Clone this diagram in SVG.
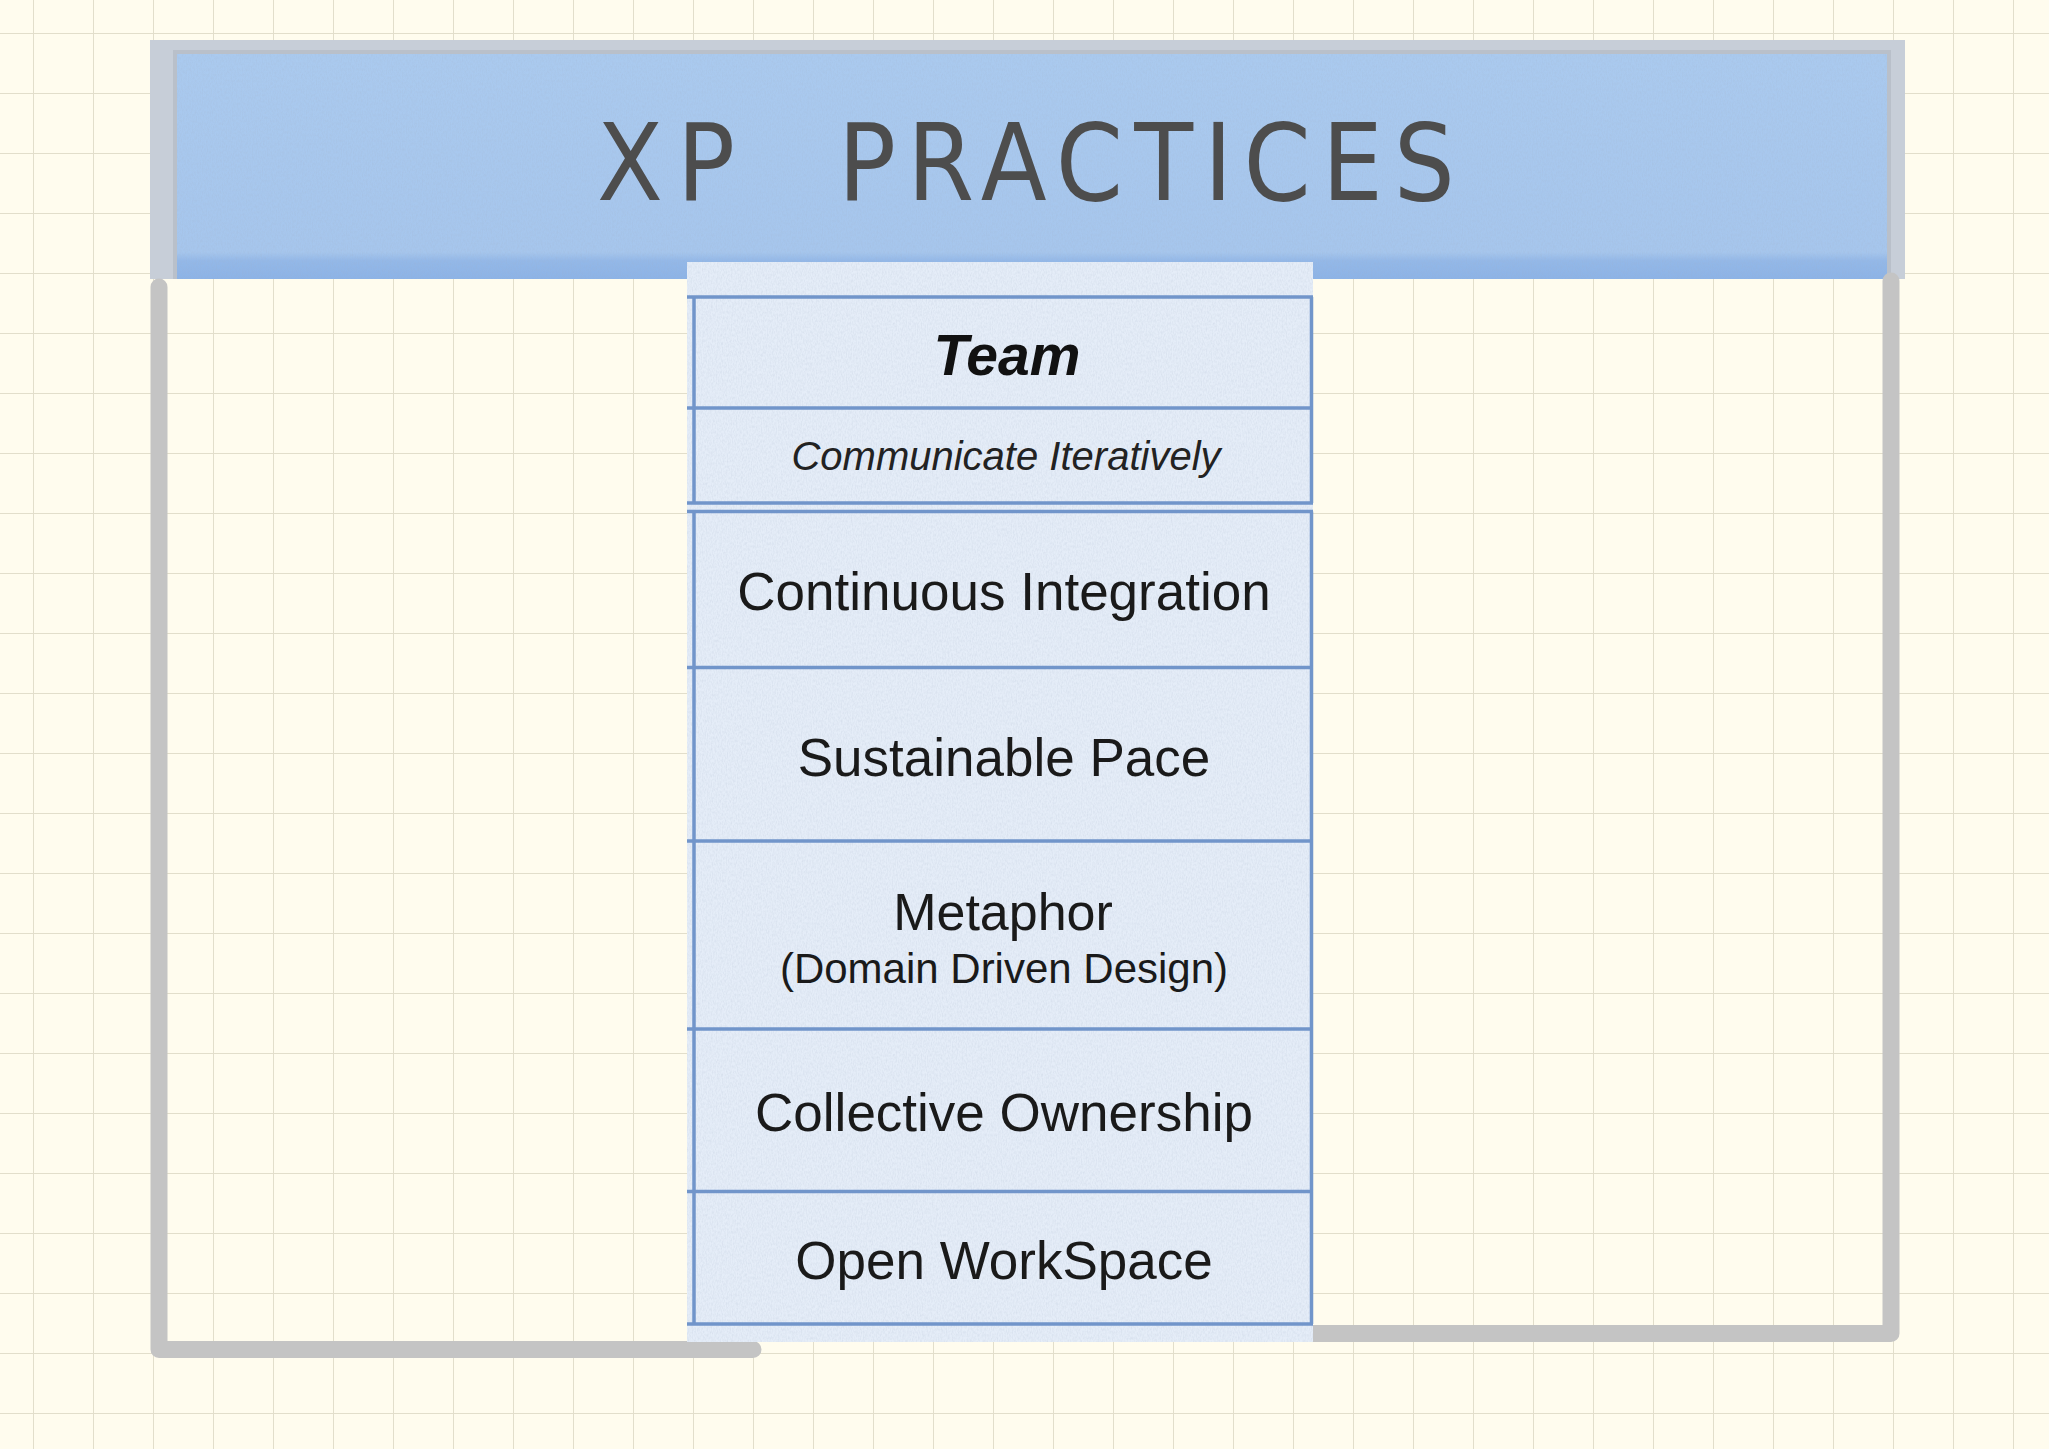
<svg xmlns="http://www.w3.org/2000/svg" width="2049" height="1449" viewBox="0 0 2049 1449">
  <defs>
    <pattern id="grid" x="33" y="33" width="60" height="60" patternUnits="userSpaceOnUse">
      <path d="M0 0 H60 M0 0 V60" fill="none" stroke="#e2decb" stroke-width="2"/>
    </pattern>
    <linearGradient id="bannerGrad" x1="0" y1="0" x2="0" y2="1">
      <stop offset="0" stop-color="#aacaef"/>
      <stop offset="0.88" stop-color="#a6c6ed"/>
      <stop offset="0.92" stop-color="#93b8e8"/>
      <stop offset="1" stop-color="#8cb3e7"/>
    </linearGradient>
    <filter id="paper" x="0" y="0" width="100%" height="100%">
      <feTurbulence type="fractalNoise" baseFrequency="0.8 0.35" numOctaves="2" seed="4"/>
      <feColorMatrix type="matrix" values="0 0 0 0 0.35  0 0 0 0 0.42  0 0 0 0 0.55  0 0 0 0.35 -0.12"/>
      <feComposite in2="SourceGraphic" operator="in"/>
    </filter>
    <style>
      .hline { stroke: #7195ca; stroke-width: 3.5; fill: none; }
      .vline { stroke: #7195ca; stroke-width: 3.5; fill: none; }
      .label { font-family: "Liberation Sans", Arial, sans-serif; font-size: 53px; fill: #1a1a1a; text-anchor: middle; }
      .title { font-family: "Liberation Sans Narrow", "DejaVu Sans Condensed", sans-serif; font-size: 107px; fill: #4d4d4d; }
      .bracket { fill: none; stroke: #c4c4c4; stroke-width: 17; stroke-linecap: round; stroke-linejoin: round; }
    </style>
  </defs>

  <rect x="0" y="0" width="2049" height="1449" fill="#fffcee"/>
  <rect x="0" y="0" width="2049" height="1449" fill="url(#grid)"/>

  <g id="banner">
    <rect x="150" y="40" width="1755" height="239" fill="#c7ced8"/>
    <rect x="173" y="50" width="1718" height="229" fill="#b9c0ca"/>
    <rect x="177" y="54" width="1710" height="225" fill="url(#bannerGrad)"/>
    <rect x="177" y="54" width="1710" height="225" fill="#ffffff" filter="url(#paper)"/>
    <text class="title" x="597" y="200" textLength="138" lengthAdjust="spacing">XP</text>
    <text class="title" x="838" y="200" textLength="617" lengthAdjust="spacing">PRACTICES</text>
  </g>

  <g id="connectors">
    <path class="bracket" d="M159 287 V1349.5 H753"/>
    <path class="bracket" d="M1891 281 V1333.5 H1280"/>
  </g>

  <g id="column">
    <rect x="687" y="262" width="626" height="1080" fill="#e5edf8"/>
    <rect x="687" y="262" width="626" height="1080" fill="#ffffff" filter="url(#paper)"/>
  </g>

  <g id="team">
    <line class="vline" x1="694" y1="297" x2="694" y2="503"/>
    <line class="vline" x1="1311.5" y1="297" x2="1311.5" y2="503"/>
    <line class="hline" x1="687" y1="297" x2="1313" y2="297"/>
    <line class="hline" x1="687" y1="408" x2="1313" y2="408"/>
    <line class="hline" x1="687" y1="503" x2="1313" y2="503"/>
    <text x="1007" y="375" text-anchor="middle" font-family="Liberation Sans, Arial, sans-serif" font-size="57" font-weight="bold" font-style="italic" fill="#111111">Team</text>
    <text x="1006" y="470" text-anchor="middle" font-family="Liberation Sans, Arial, sans-serif" font-size="40" font-style="italic" fill="#222222">Communicate Iteratively</text>
  </g>

  <g id="continuous-integration">
    <line class="vline" x1="694" y1="511.5" x2="694" y2="667.5"/>
    <line class="vline" x1="1311.5" y1="511.5" x2="1311.5" y2="667.5"/>
    <line class="hline" x1="687" y1="511.5" x2="1313" y2="511.5"/>
    <line class="hline" x1="687" y1="667.5" x2="1313" y2="667.5"/>
    <text class="label" x="1004" y="610">Continuous Integration</text>
  </g>

  <g id="sustainable-pace">
    <line class="vline" x1="694" y1="667.5" x2="694" y2="841"/>
    <line class="vline" x1="1311.5" y1="667.5" x2="1311.5" y2="841"/>
    <line class="hline" x1="687" y1="841" x2="1313" y2="841"/>
    <text class="label" x="1004" y="776">Sustainable Pace</text>
  </g>

  <g id="metaphor">
    <line class="vline" x1="694" y1="841" x2="694" y2="1029"/>
    <line class="vline" x1="1311.5" y1="841" x2="1311.5" y2="1029"/>
    <line class="hline" x1="687" y1="1029" x2="1313" y2="1029"/>
    <text class="label" x="1003" y="930" style="font-size:52px">Metaphor</text>
    <text class="label" x="1004" y="983" style="font-size:42px">(Domain Driven Design)</text>
  </g>

  <g id="collective-ownership">
    <line class="vline" x1="694" y1="1029" x2="694" y2="1191.5"/>
    <line class="vline" x1="1311.5" y1="1029" x2="1311.5" y2="1191.5"/>
    <line class="hline" x1="687" y1="1191.5" x2="1313" y2="1191.5"/>
    <text class="label" x="1004" y="1131">Collective Ownership</text>
  </g>

  <g id="open-workspace">
    <line class="vline" x1="694" y1="1191.5" x2="694" y2="1324"/>
    <line class="vline" x1="1311.5" y1="1191.5" x2="1311.5" y2="1324"/>
    <line class="hline" x1="687" y1="1324" x2="1313" y2="1324"/>
    <text class="label" x="1004" y="1279">Open WorkSpace</text>
  </g>
</svg>
